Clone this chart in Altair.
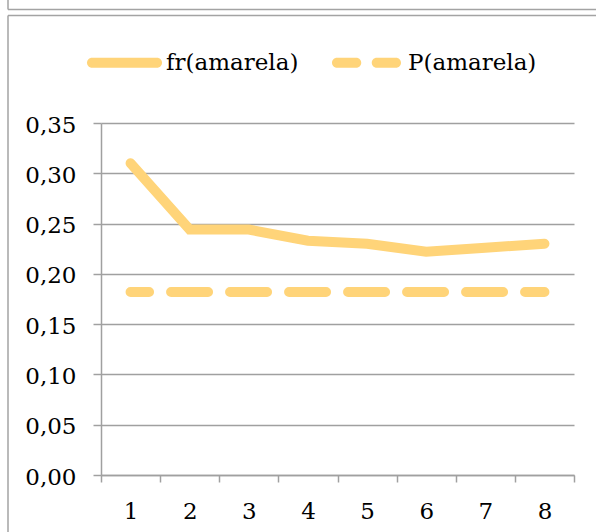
import altair as alt
import pandas as pd

# Draw number (1..8) and the observed relative frequency of "amarela"
categories = [1, 2, 3, 4, 5, 6, 7, 8]
fr_amarela = [0.310, 0.244, 0.244, 0.233, 0.230, 0.222, 0.226, 0.230]
# Theoretical probability of "amarela"
p_amarela = [0.182, 0.182, 0.182, 0.182, 0.182, 0.182, 0.182, 0.182]
series_names = ["fr(amarela)", "P(amarela)"]
y_ticks = [0.00, 0.05, 0.10, 0.15, 0.20, 0.25, 0.30, 0.35]

GOLD = "#FFD479"
GRID = "#A0A0A0"
FRAME = "#A3A3A3"
FONT = "DejaVu Serif"
FS = 23
W, H = 473, 352

df = pd.DataFrame({"n": categories, "fr": fr_amarela, "P": p_amarela})

x_scale = alt.Scale(domain=[categories[0] - 0.5, categories[-1] + 0.5], nice=False, zero=False)
y_scale = alt.Scale(domain=[y_ticks[0], y_ticks[-1]], nice=False)

# ticks sit between categories, labels are shifted to the category centres
x_axis = alt.Axis(
    title=None,
    values=[c - 0.5 for c in categories] + [categories[-1] + 0.5],
    labelExpr=f"datum.value < {categories[-1]} ? format(datum.value + 0.5, 'd') : ''",
    labelOffset=W / len(categories) / 2,
    labelOverlap=False,
    labelFlush=False,
    labelBound=False,
    grid=False,
    domainColor=GRID,
    domainWidth=1.5,
    tickColor=GRID,
    tickWidth=1.5,
    tickSize=7,
    labelPadding=18,
    labelFont=FONT,
    labelFontSize=FS,
    labelColor="black",
)
y_axis = alt.Axis(
    title=None,
    values=y_ticks,
    labelExpr="replace(format(datum.value, '.2f'), '.', ',')",
    grid=True,
    gridColor=GRID,
    gridWidth=1.5,
    domainColor=GRID,
    domainWidth=1.5,
    tickColor=GRID,
    tickWidth=1.5,
    tickSize=8,
    labelPadding=17,
    labelOffset=2,
    labelFont=FONT,
    labelFontSize=FS,
    labelColor="black",
)

base = alt.Chart(df)

fr_line = base.mark_line(
    color=GOLD, strokeWidth=10, strokeCap="round", strokeJoin="miter"
).encode(
    x=alt.X("n:Q", scale=x_scale, axis=x_axis),
    y=alt.Y("fr:Q", scale=y_scale, axis=y_axis),
)

p_line = base.mark_line(
    color=GOLD, strokeWidth=10, strokeCap="round", strokeDash=[37, 22], strokeDashOffset=18.5
).encode(
    x=alt.X("n:Q", scale=x_scale, axis=x_axis),
    y=alt.Y("P:Q", scale=y_scale, axis=y_axis),
)

# legend symbols: a rounded bar for the solid series, two rounded dashes for the dashed one
SOLID_SYMBOL = (
    "M-0.867,-0.133H0.867A0.133,0.133,0,0,1,0.867,0.133"
    "H-0.867A0.133,0.133,0,0,1,-0.867,-0.133Z"
)
DASH_SYMBOL = (
    "M-0.787,-0.133H-0.273A0.133,0.133,0,0,1,-0.273,0.133"
    "H-0.787A0.133,0.133,0,0,1,-0.787,-0.133Z"
    "M0.273,-0.133H0.787A0.133,0.133,0,0,1,0.787,0.133"
    "H0.273A0.133,0.133,0,0,1,0.273,-0.133Z"
)

legend_layer = base.transform_filter("false").mark_point(
    filled=True, opacity=1, color=GOLD, size=5625
).encode(
    shape=alt.Shape(
        "series:N",
        scale=alt.Scale(domain=series_names, range=[SOLID_SYMBOL, DASH_SYMBOL]),
        legend=alt.Legend(
            title=None,
            orient="none",
            legendX=-14,
            legendY=-98,
            direction="horizontal",
            symbolSize=5625,
            symbolStrokeWidth=0,
            symbolFillColor=GOLD,
            symbolOpacity=1,
            labelFont=FONT,
            labelFontSize=FS,
            labelColor="black",
            labelOffset=4,
            labelLimit=400,
            columnPadding=30,
            padding=0,
        ),
    )
)

# frame lines of the surrounding boxes
one = pd.DataFrame({"k": [0]})
frame_rule = alt.Chart(one).mark_rule(color=FRAME, strokeWidth=1.5)
frames = alt.layer(
    frame_rule.encode(x=alt.value(-93), y=alt.value(-123), y2=alt.value(-113.5)),
    frame_rule.encode(x=alt.value(-93), x2=alt.value(W + 30), y=alt.value(-113.5)),
    frame_rule.encode(x=alt.value(-93), x2=alt.value(W + 30), y=alt.value(-107.5)),
    frame_rule.encode(x=alt.value(-93), y=alt.value(-107.5), y2=alt.value(H + 60)),
)

chart = alt.layer(fr_line, p_line, legend_layer, frames).properties(
    width=W,
    height=H,
    autosize=alt.AutoSizeParams(type="none"),
    padding={"left": 101, "top": 123, "right": 22, "bottom": 57},
    background="white",
).configure_view(strokeWidth=0)

chart.save("out.html", embed_options={"renderer": "svg", "actions": False})
